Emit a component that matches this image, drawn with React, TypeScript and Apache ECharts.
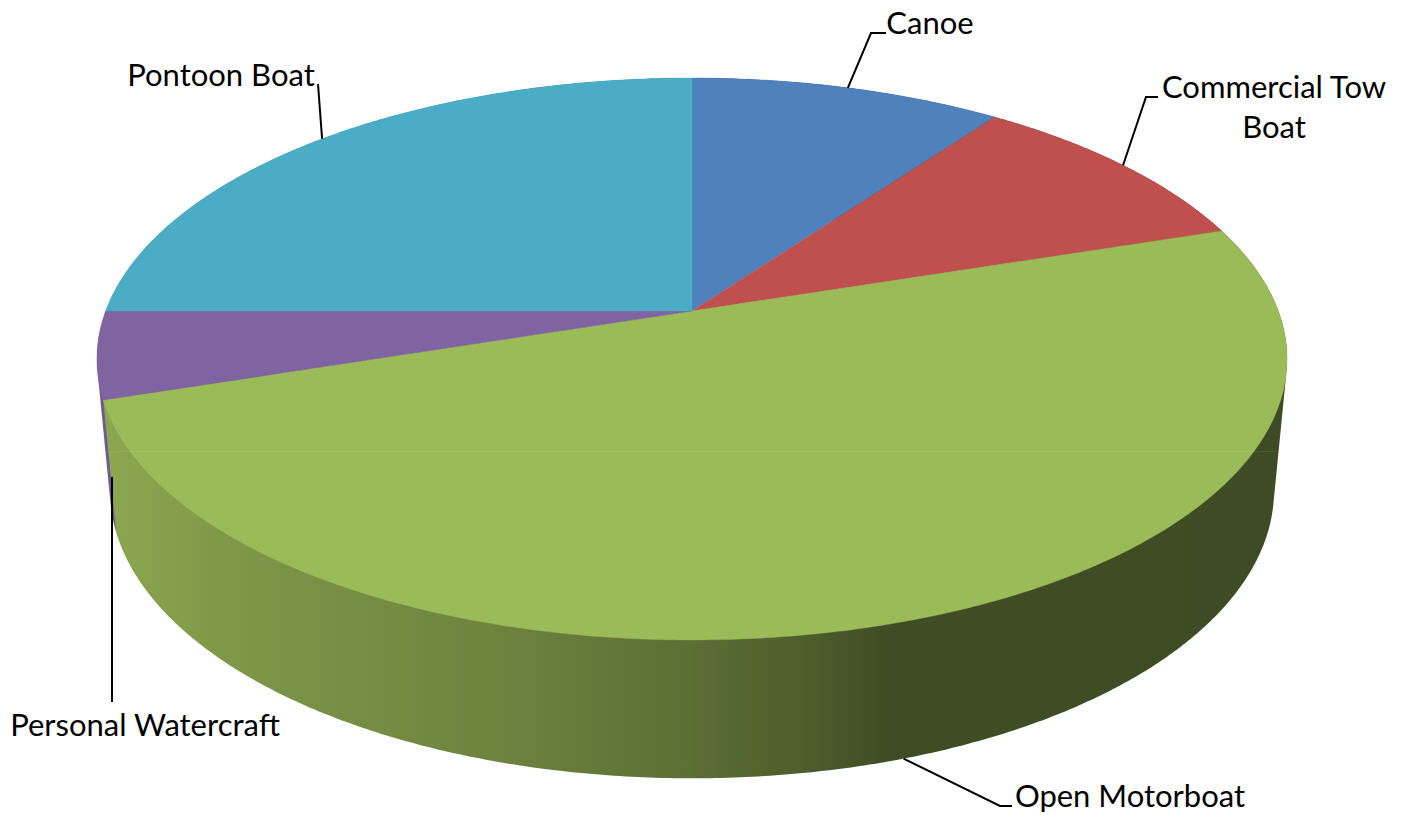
import React, { useEffect, useRef } from "react";
import * as echarts from "echarts";

const categories = ["Canoe", "Commercial Tow Boat", "Open Motorboat", "Personal Watercraft", "Pontoon Boat"];
const values = [10, 10, 50, 5, 25];
const colors = ["#4f81bd", "#c0504d", "#9bbb59", "#8064a2", "#4bacc6"];
const labelTexts = ["Canoe", "Commercial Tow\nBoat", "Open Motorboat", "Personal Watercraft", "Pontoon Boat"];
const labelPos = [[930, 22], [1274, 106], [1130, 795], [145, 724], [221, 74]];
const leaderElbows = [
  [[871, 33], [886, 33]],
  [[1146, 97], [1158, 97]],
  [[1000, 806], [1012, 806]],
  [[112, 702]],
  [[318, 84]],
];
const leaderOnBase = [false, false, true, true, false];
const shadeStops = [[0, 0.9], [0.11, 0.81], [0.336, 0.7], [0.487, 0.6], [0.588, 0.5], [0.664, 0.41], [1, 0.4]];

const top = { cx: 692, cy: 311, a: 272.8, b: 586.3, p: 0.1708 };
const base = { cx: 692, cy: 441, a: 279.7, b: 573.5, p: 0.1708 };
const sideX0 = 100;
const sideX1 = 1290;

const total = values.reduce((s, v) => s + v, 0);
const starts = values.map((_, i) => (values.slice(0, i).reduce((s, v) => s + v, 0) / total) * 360);
const ends = starts.map((s, i) => s + (values[i] / total) * 360);

type Disc = typeof top;
function rim(d: Disc, deg: number): number[] {
  const r = (deg * Math.PI) / 180;
  const u = Math.sin(r);
  const v = Math.cos(r);
  const w = 1 + d.p * v;
  return [d.cx + (d.b * u) / w, d.cy - (d.a * v) / w];
}
function arcPts(d: Disc, from: number, to: number): number[][] {
  const n = Math.max(2, Math.ceil((to - from) * 2));
  const out: number[][] = [];
  for (let i = 0; i <= n; i++) out.push(rim(d, from + ((to - from) * i) / n));
  return out;
}
function hull(pts: number[][]): number[][] {
  const s = pts.slice().sort((a, b) => a[0] - b[0] || a[1] - b[1]);
  const cross = (o: number[], a: number[], b: number[]) =>
    (a[0] - o[0]) * (b[1] - o[1]) - (a[1] - o[1]) * (b[0] - o[0]);
  const lo: number[][] = [];
  for (const p of s) {
    while (lo.length >= 2 && cross(lo[lo.length - 2], lo[lo.length - 1], p) <= 0) lo.pop();
    lo.push(p);
  }
  const up: number[][] = [];
  for (let i = s.length - 1; i >= 0; i--) {
    const p = s[i];
    while (up.length >= 2 && cross(up[up.length - 2], up[up.length - 1], p) <= 0) up.pop();
    up.push(p);
  }
  return lo.slice(0, -1).concat(up.slice(0, -1));
}
function shade(hex: string, f: number): string {
  const n = parseInt(hex.slice(1), 16);
  const c = [(n >> 16) & 255, (n >> 8) & 255, n & 255].map((x) => Math.round(x * f));
  return `rgb(${c[0]},${c[1]},${c[2]})`;
}

const sliceData = values.map((v, i) => ({ name: categories[i], value: v }));

export default function App() {
  const ref = useRef<HTMLDivElement>(null);
  useEffect(() => {
    document.body.style.margin = "0";
    document.body.style.overflow = "hidden";
    const chart = echarts.init(ref.current!, null, { renderer: "svg" });
    chart.setOption({
      animation: false,
      backgroundColor: "#ffffff",
      graphic: [
        {
          type: "line",
          silent: true,
          z: 10,
          shape: { x1: 108, y1: 451.5, x2: 1277, y2: 451.5 },
          style: { stroke: "rgba(255,255,255,0.08)", lineWidth: 1 },
        },
      ],
      series: [
        {
          type: "custom",
          name: "side",
          coordinateSystem: "none",
          silent: true,
          z: 1,
          data: sliceData,
          renderItem: (params: any) => {
            const i = params.dataIndex;
            const from = starts[i];
            const to = ends[i];
            const midV = Math.cos((((from + to) / 2) * Math.PI) / 180);
            const pts = hull(arcPts(top, from, to).concat(arcPts(base, from, to)));
            return {
              type: "polygon",
              z2: Math.round(100 - midV * 90),
              shape: { points: pts },
              style: {
                fill: new echarts.graphic.LinearGradient(
                  sideX0, 0, sideX1, 0,
                  shadeStops.map(([o, f]) => ({ offset: o, color: shade(colors[i], f) })),
                  true
                ),
                stroke: "none",
              },
            };
          },
        },
        {
          type: "custom",
          name: "top",
          coordinateSystem: "none",
          silent: true,
          z: 2,
          data: sliceData,
          renderItem: (params: any) => {
            const i = params.dataIndex;
            return {
              type: "polygon",
              shape: { points: [[top.cx, top.cy] as number[]].concat(arcPts(top, starts[i], ends[i])) },
              style: { fill: colors[i], stroke: colors[i], lineWidth: 0.4 },
            };
          },
        },
        {
          type: "custom",
          name: "labels",
          coordinateSystem: "none",
          silent: true,
          z: 3,
          data: sliceData,
          renderItem: (params: any) => {
            const i = params.dataIndex;
            const mid = (starts[i] + ends[i]) / 2;
            let anchor = rim(leaderOnBase[i] ? base : top, mid);
            if (i === 3) anchor = [leaderElbows[3][0][0], 477];
            return {
              type: "group",
              children: [
                {
                  type: "polyline",
                  z2: 200,
                  shape: { points: [anchor].concat(leaderElbows[i]) },
                  style: { fill: "none", stroke: "#000000", lineWidth: 2 },
                },
                {
                  type: "text",
                  z2: 200,
                  x: labelPos[i][0],
                  y: labelPos[i][1],
                  style: {
                    text: labelTexts[i],
                    font: '31px Lato, "Open Sans", sans-serif',
                    lineHeight: 40,
                    fill: "#000000",
                    align: "center",
                    verticalAlign: "middle",
                  },
                },
              ],
            };
          },
        },
      ],
    });
    return () => chart.dispose();
  }, []);
  return <div ref={ref} style={{ width: 1409, height: 818 }} />;
}
